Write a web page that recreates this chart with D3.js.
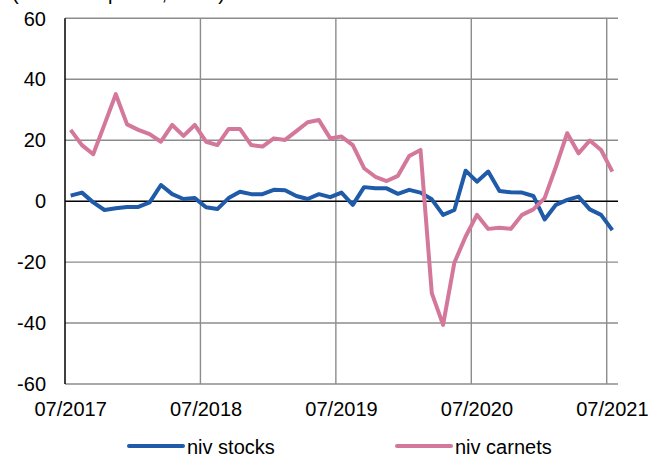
<!DOCTYPE html>
<html>
<head>
<meta charset="utf-8">
<script src="https://cdn.jsdelivr.net/npm/d3@7/dist/d3.min.js"></script>
<style>
  html, body { margin: 0; padding: 0; background: #fff; }
  svg { display: block; font-family: "Liberation Sans", Arial, sans-serif; }
</style>
</head>
<body>
<svg id="chart" width="661" height="459"></svg>
<script>
const months = [
  "07/2017","08/2017","09/2017","10/2017","11/2017","12/2017","01/2018","02/2018","03/2018","04/2018","05/2018","06/2018",
  "07/2018","08/2018","09/2018","10/2018","11/2018","12/2018","01/2019","02/2019","03/2019","04/2019","05/2019","06/2019",
  "07/2019","08/2019","09/2019","10/2019","11/2019","12/2019","01/2020","02/2020","03/2020","04/2020","05/2020","06/2020",
  "07/2020","08/2020","09/2020","10/2020","11/2020","12/2020","01/2021","02/2021","03/2021","04/2021","05/2021","06/2021",
  "07/2021"
];
const nivStocks = [
  1.8, 2.8, -0.4, -2.9, -2.3, -1.9, -1.9, -0.4, 5.3, 2.3, 0.7, 1.0,
  -2.0, -2.6, 1.0, 3.1, 2.3, 2.3, 3.7, 3.6, 1.7, 0.7, 2.3, 1.3,
  2.8, -1.2, 4.6, 4.2, 4.2, 2.4, 3.7, 2.8, 0.6, -4.5, -2.9, 10.0,
  6.4, 9.7, 3.3, 2.9, 2.8, 1.7, -6.0, -1.2, 0.4, 1.5, -2.7, -4.5,
  -9.5
];
const nivCarnets = [
  23.4, 18.4, 15.4, 25.2, 35.1, 25.2, 23.4, 22.0, 19.5, 25.0, 21.4, 25.0,
  19.5, 18.4, 23.7, 23.7, 18.4, 17.9, 20.6, 20.1, 23.0, 25.9, 26.6, 20.6,
  21.2, 18.4, 10.8, 8.0, 6.6, 8.3, 14.8, 16.8, -30.2, -40.6, -20.2, -11.6,
  -4.5, -9.1, -8.7, -9.1, -4.5, -2.7, 1.0, 11.3, 22.3, 15.7, 19.9, 16.8,
  9.7
];
const yTicks = [-60, -40, -20, 0, 20, 40, 60];
const xTickLabels = ["07/2017", "07/2018", "07/2019", "07/2020", "07/2021"];
const seriesNames = ["niv stocks", "niv carnets"];
const seriesColors = ["#1f5ba8", "#d4789b"];
const titleText = "(soldes d'opinion, en %)";

const svg = d3.select("#chart");
const mLeft = 65, mRight = 618, mTop = 18.3, mBottom = 384;

const x = d3.scaleBand().domain(months).range([mLeft, mRight]).paddingInner(0).paddingOuter(0);
const xc = d => x(d) + x.bandwidth() / 2;
const y = d3.scaleLinear().domain([-60, 60]).range([mBottom, mTop]);

// title, cropped at the top edge as in the reference
svg.append("text").attr("x", 12).attr("y", -0.5)
  .attr("font-size", 20).attr("fill", "#000").text(titleText);

// horizontal gridlines
svg.append("g").selectAll("line").data(yTicks.filter(t => t !== 0)).join("line")
  .attr("x1", mLeft).attr("x2", mRight)
  .attr("y1", d => y(d)).attr("y2", d => y(d))
  .attr("stroke", "#8c8c8c").attr("stroke-width", 1.4);

// vertical gridlines at year boundaries
svg.append("g").selectAll("line").data(xTickLabels.slice(1)).join("line")
  .attr("x1", d => x(d)).attr("x2", d => x(d))
  .attr("y1", mTop).attr("y2", mBottom)
  .attr("stroke", "#8c8c8c").attr("stroke-width", 1.4);

// left axis line
svg.append("line").attr("x1", mLeft).attr("x2", mLeft).attr("y1", mTop).attr("y2", mBottom)
  .attr("stroke", "#000").attr("stroke-width", 1.5);

// zero line
svg.append("line").attr("x1", mLeft).attr("x2", mRight).attr("y1", y(0)).attr("y2", y(0))
  .attr("stroke", "#000").attr("stroke-width", 1.5);

// y tick labels
svg.append("g").selectAll("text").data(yTicks).join("text")
  .attr("x", 46).attr("y", d => y(d)).attr("dy", "0.36em")
  .attr("text-anchor", "end").attr("font-size", 20).attr("fill", "#000")
  .text(d => d);

// x tick labels
svg.append("g").selectAll("text").data(xTickLabels).join("text")
  .attr("x", d => xc(d)).attr("y", 416)
  .attr("text-anchor", "middle").attr("font-size", 20).attr("fill", "#000")
  .text(d => d);

// lines
const line = d3.line().x((d, i) => xc(months[i])).y(d => y(d));
[nivStocks, nivCarnets].forEach((s, k) => {
  svg.append("path").datum(s)
    .attr("d", line).attr("fill", "none")
    .attr("stroke", seriesColors[k]).attr("stroke-width", 4)
    .attr("stroke-linejoin", "round").attr("stroke-linecap", "butt");
});

// legend
const legendX = [129, 397];
seriesNames.forEach((n, k) => {
  const g = svg.append("g");
  g.append("line").attr("x1", legendX[k]).attr("x2", legendX[k] + 54)
    .attr("y1", 446).attr("y2", 446)
    .attr("stroke", seriesColors[k]).attr("stroke-width", 4).attr("stroke-linecap", "round");
  g.append("text").attr("x", legendX[k] + 58).attr("y", 454)
    .attr("font-size", 20).attr("fill", "#000").text(n);
});
</script>
</body>
</html>
